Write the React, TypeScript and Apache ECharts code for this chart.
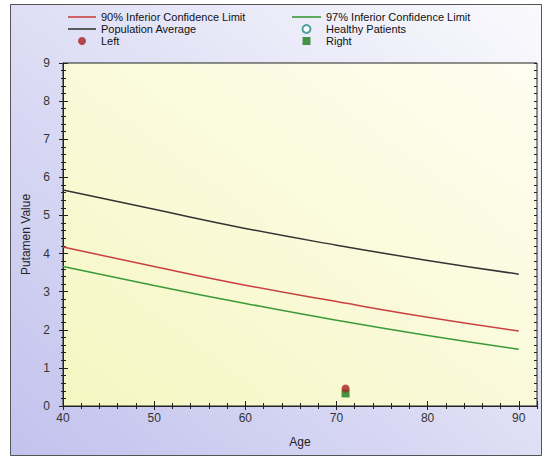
import React, { useEffect, useRef } from "react";
import * as echarts from "echarts";

const ages = [40, 50, 60, 70, 80, 90];
const populationAverage = [5.67, 5.16, 4.66, 4.22, 3.82, 3.46];
const limit90 = [4.17, 3.66, 3.17, 2.74, 2.33, 1.97];
const limit97 = [3.66, 3.16, 2.69, 2.25, 1.85, 1.49];
const healthyPatients: number[][] = [];
const leftPoints = [[71, 0.46]];
const rightPoints = [[71, 0.33]];

const X_MIN = 40;
const X_MAX = 92;
const Y_MIN = 0;
const Y_MAX = 9;

const FONT = "'Liberation Sans', Arial, sans-serif";
const LINE_ICON = "path://M0,0 H27 V1.5 H0 Z";
const SQUARE_ICON = "path://M0,0 H1 V1 H0 Z";

function pair(xs: number[], ys: number[]) {
  return xs.map((x, i) => [x, ys[i]]);
}

export default function App() {
  const ref = useRef<HTMLDivElement>(null);
  useEffect(() => {
    document.body.style.margin = "0";
    const chart = echarts.init(ref.current!, null, { renderer: "svg" });
    const hidden = { show: false };
    const xBase = { type: "value", min: X_MIN, max: X_MAX, splitLine: hidden, axisLabel: hidden, axisLine: hidden };
    const yBase = { type: "value", min: Y_MIN, max: Y_MAX, splitLine: hidden, axisLabel: hidden, axisLine: hidden };
    const tickStyle = { color: "#222", width: 1 };
    const legendText = { fontSize: 11, lineHeight: 12, color: "#111", fontFamily: FONT };
    chart.setOption({
      animation: false,
      backgroundColor: "#ffffff",
      textStyle: { fontFamily: FONT },
      graphic: [
        {
          type: "rect",
          z: -10,
          shape: { x: 10.5, y: 4.5, width: 531, height: 451 },
          style: {
            fill: {
              type: "linear", x: 1, y: 0, x2: 0, y2: 1,
              colorStops: [
                { offset: 0, color: "#fafafd" },
                { offset: 1, color: "#c2c2ee" },
              ],
            },
            stroke: "#555",
            lineWidth: 1,
          },
        },
      ],
      grid: {
        left: 63,
        right: 10,
        top: 63,
        bottom: 54,
        show: true,
        borderColor: "#222",
        borderWidth: 1,
        backgroundColor: {
          type: "linear", x: 1, y: 0, x2: 0, y2: 1,
          colorStops: [
            { offset: 0, color: "#fefef2" },
            { offset: 1, color: "#f6f6c2" },
          ],
        },
      },
      legend: [
        {
          orient: "vertical",
          left: 68,
          top: 11,
          padding: 0,
          itemWidth: 28,
          itemHeight: 8,
          itemGap: 0,
          textStyle: legendText,
          data: [
            { name: "90% Inferior Confidence Limit", icon: LINE_ICON },
            { name: "Population Average", icon: LINE_ICON },
            { name: "Left", icon: "circle" },
          ],
        },
        {
          orient: "vertical",
          left: 292,
          top: 11,
          padding: 0,
          itemWidth: 29,
          itemHeight: 8,
          itemGap: 0,
          textStyle: legendText,
          data: [
            { name: "97% Inferior Confidence Limit", icon: LINE_ICON },
            { name: "Healthy Patients" },
            { name: "Right", icon: SQUARE_ICON },
          ],
        },
      ],
      xAxis: [
        {
          type: "value",
          position: "bottom",
          min: X_MIN,
          max: X_MAX,
          interval: 10,
          name: "Age",
          nameLocation: "middle",
          nameGap: 30,
          nameTextStyle: { fontSize: 12, color: "#222", fontFamily: FONT },
          splitLine: hidden,
          axisLine: { show: true, lineStyle: { color: "#222", width: 1 } },
          axisTick: { show: true, inside: false, length: 4, lineStyle: tickStyle },
          axisLabel: { fontSize: 12, color: "#333", margin: 6, showMaxLabel: false, fontFamily: FONT },
        },
        { ...xBase, position: "bottom", interval: 10, axisTick: { show: true, inside: true, length: 5, lineStyle: tickStyle } },
        { ...xBase, position: "bottom", interval: 2, axisTick: { show: true, inside: true, length: 3, lineStyle: tickStyle } },
        { ...xBase, position: "bottom", interval: 2, axisTick: { show: true, inside: false, length: 2, lineStyle: tickStyle } },
        { ...xBase, position: "top", interval: 2, axisTick: { show: true, inside: true, length: 3, lineStyle: tickStyle } },
      ],
      yAxis: [
        {
          type: "value",
          position: "left",
          min: Y_MIN,
          max: Y_MAX,
          interval: 1,
          name: "Putamen Value",
          nameLocation: "middle",
          nameGap: 27,
          nameRotate: 90,
          nameTextStyle: { fontSize: 12, color: "#222", fontFamily: FONT },
          splitLine: hidden,
          axisLine: { show: true, lineStyle: { color: "#222", width: 1 } },
          axisTick: { show: true, inside: false, length: 4, lineStyle: tickStyle },
          axisLabel: { fontSize: 12, color: "#333", margin: 13, fontFamily: FONT },
        },
        { ...yBase, position: "left", interval: 1, axisTick: { show: true, inside: true, length: 5, lineStyle: tickStyle } },
        { ...yBase, position: "left", interval: 0.2, axisTick: { show: true, inside: true, length: 3, lineStyle: tickStyle } },
        { ...yBase, position: "left", interval: 0.2, axisTick: { show: true, inside: false, length: 2, lineStyle: tickStyle } },
        { ...yBase, position: "right", interval: 0.2, axisTick: { show: true, inside: true, length: 3, lineStyle: tickStyle } },
      ],
      series: [
        {
          name: "90% Inferior Confidence Limit",
          type: "line",
          data: pair(ages, limit90),
          smooth: true,
          symbol: "none",
          lineStyle: { color: "#c84040", width: 1.5 },
          itemStyle: { color: "#c84040" },
        },
        {
          name: "97% Inferior Confidence Limit",
          type: "line",
          data: pair(ages, limit97),
          smooth: true,
          symbol: "none",
          lineStyle: { color: "#3a9a3a", width: 1.5 },
          itemStyle: { color: "#3a9a3a" },
        },
        {
          name: "Population Average",
          type: "line",
          data: pair(ages, populationAverage),
          smooth: true,
          symbol: "none",
          lineStyle: { color: "#333333", width: 1.5 },
          itemStyle: { color: "#333333" },
        },
        {
          name: "Healthy Patients",
          type: "scatter",
          data: healthyPatients,
          symbol: "emptyCircle",
          symbolSize: 6,
          itemStyle: { color: "#2a8a8a", borderColor: "#2a8a8a", borderWidth: 1.5 },
        },
        {
          name: "Right",
          type: "scatter",
          data: rightPoints,
          symbol: "rect",
          symbolSize: 8,
          z: 3,
          itemStyle: { color: "#1a7a1a" },
        },
        {
          name: "Left",
          type: "scatter",
          data: leftPoints,
          symbol: "circle",
          symbolSize: 8,
          z: 4,
          itemStyle: { color: "#a82020" },
        },
      ],
    });
    return () => chart.dispose();
  }, []);
  return <div ref={ref} style={{ width: 547, height: 460 }} />;
}
